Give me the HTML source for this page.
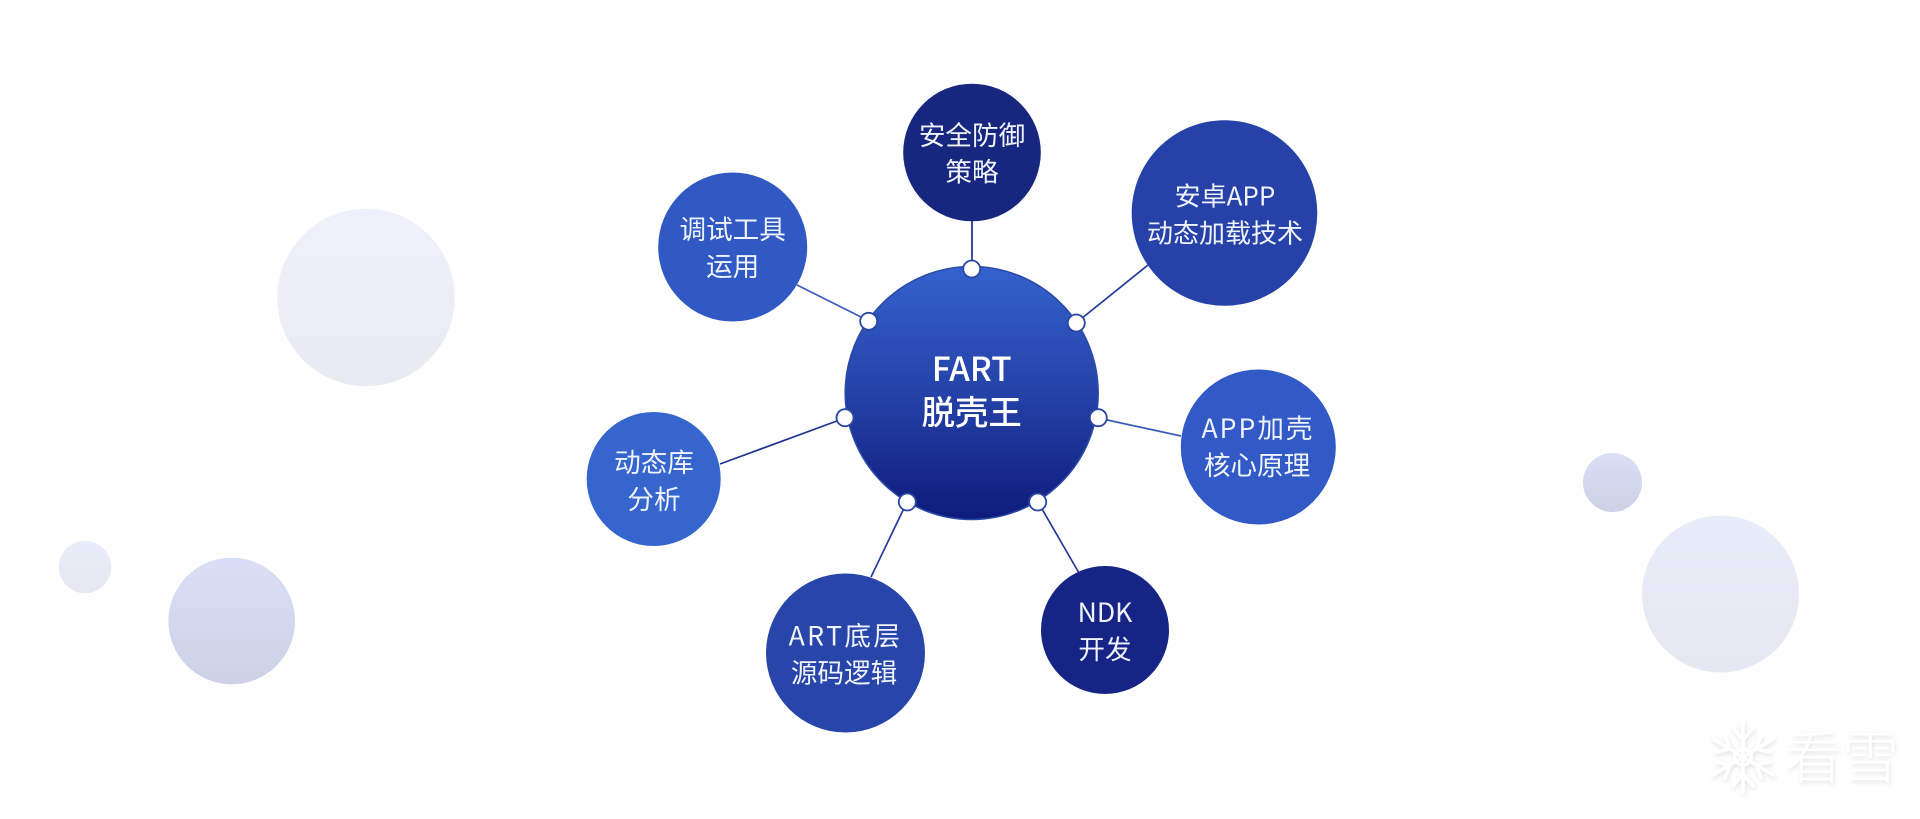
<!DOCTYPE html>
<html lang="zh"><head><meta charset="utf-8"><title>FART 脱壳王</title>
<style>
html,body{margin:0;padding:0;background:#fff;width:1920px;height:819px;overflow:hidden}
svg{display:block}
text{font-family:"Noto Sans CJK SC",sans-serif;fill:#f0f3fc;text-anchor:middle;font-size:26.6px;font-weight:400}
</style></head><body>
<svg width="1920" height="819" viewBox="0 0 1920 819" xmlns="http://www.w3.org/2000/svg">
<defs>
<linearGradient id="m" x1="0" y1="0" x2="0" y2="1"><stop offset="0" stop-color="#3462cd"/><stop offset="0.5" stop-color="#2542a8"/><stop offset="1" stop-color="#0e1b7b"/></linearGradient>
<linearGradient id="b1" x1="0" y1="0" x2="0" y2="1"><stop offset="0" stop-color="#eef1fb"/><stop offset="1" stop-color="#e9ebf3"/></linearGradient>
<linearGradient id="b2" x1="0" y1="0" x2="0" y2="1"><stop offset="0" stop-color="#d8dff6"/><stop offset="1" stop-color="#cdd1e5"/></linearGradient>
<linearGradient id="b3" x1="0" y1="0" x2="0" y2="1"><stop offset="0" stop-color="#e9edf9"/><stop offset="1" stop-color="#e5e7f2"/></linearGradient>
<filter id="s" x="-20%" y="-20%" width="140%" height="140%"><feDropShadow dx="1" dy="2" stdDeviation="2.2" flood-color="#000" flood-opacity="0.11"/></filter>
</defs>
<rect width="1920" height="819" fill="#fefefe"/>
<circle cx="366" cy="297.5" r="88.7" fill="url(#b1)"/>
<circle cx="85" cy="567" r="26.2" fill="url(#b3)"/>
<circle cx="231.7" cy="621" r="63.3" fill="url(#b2)"/>
<circle cx="1612.5" cy="482.5" r="29.5" fill="url(#b2)"/>
<circle cx="1720.5" cy="594" r="78.5" fill="url(#b3)"/>
<g stroke-width="1.7">
<line x1="972" y1="220" x2="972" y2="262" stroke="#1b2d8c"/>
<line x1="1148" y1="265" x2="1076" y2="323" stroke="#233c9c"/>
<line x1="797" y1="285" x2="869" y2="321" stroke="#3a5cb8"/>
<line x1="1181" y1="436" x2="1098" y2="418" stroke="#3a5cb8"/>
<line x1="720" y1="464" x2="845" y2="418" stroke="#1f3390"/>
<line x1="871" y1="577" x2="907" y2="502" stroke="#243c9c"/>
<line x1="1079" y1="573" x2="1038" y2="502" stroke="#233a98"/>
</g>
<circle cx="972" cy="152.5" r="68.8" fill="#17277f"/>
<circle cx="1224.5" cy="213" r="92.8" fill="#2642a9"/>
<circle cx="732.7" cy="247" r="74.5" fill="#3059c4"/>
<circle cx="1258.3" cy="447" r="77.5" fill="#315ac6"/>
<circle cx="653.7" cy="479" r="67" fill="#3565cd"/>
<circle cx="845.5" cy="653" r="79.5" fill="#2845a9"/>
<circle cx="1105" cy="630" r="64" fill="#162585"/>
<circle cx="971.7" cy="393" r="126.5" fill="url(#m)" stroke="#2a4aa8" stroke-width="1.5"/>
<g fill="#fff" stroke="#2a46a4" stroke-width="1.8">
<circle cx="971.7" cy="269" r="8.5"/>
<circle cx="868.7" cy="321.3" r="8.5"/>
<circle cx="1076.3" cy="323" r="8.5"/>
<circle cx="845" cy="417.7" r="8.5"/>
<circle cx="1098.3" cy="417.7" r="8.5"/>
<circle cx="907.3" cy="502" r="8.5"/>
<circle cx="1037.7" cy="502" r="8.5"/>
</g>
<text x="972" y="145">安全防御</text>
<text x="972" y="181.5">策略</text>
<text x="1225" y="205.5" style="font-size:26px">安卓APP</text>
<text x="1225" y="242.5" style="font-size:26px">动态加载技术</text>
<text x="732.7" y="239">调试工具</text>
<text x="732.7" y="276">运用</text>
<text x="1258" y="438" letter-spacing="2">APP加壳</text>
<text x="1257" y="475">核心原理</text>
<text x="654" y="472">动态库</text>
<text x="654" y="509">分析</text>
<text x="845.5" y="645.5" letter-spacing="2.4">ART底层</text>
<text x="844" y="682.5">源码逻辑</text>
<text x="1105" y="622">NDK</text>
<text x="1105" y="659">开发</text>
<text x="971.7" y="381" style="font-size:33.4px;font-weight:500;fill:#fff">FART</text>
<text x="971.7" y="424.5" style="font-size:33.4px;font-weight:500;fill:#fff">脱壳王</text>
<g filter="url(#s)">
<g stroke="#fff" stroke-width="3.5" fill="none" stroke-linecap="round">
<line x1="1743" y1="722" x2="1743" y2="792"/>
<line x1="1713" y1="739" x2="1773" y2="775"/>
<line x1="1713" y1="775" x2="1773" y2="739"/>
<polyline points="1733,728 1743,740 1753,728"/>
<polyline points="1733,786 1743,774 1753,786"/>
<polyline points="1716,752 1730,749 1725,736"/>
<polyline points="1770,762 1756,765 1761,778"/>
<polyline points="1716,762 1730,765 1725,778"/>
<polyline points="1770,752 1756,749 1761,736"/>
<polygon points="1743,748 1751,752.5 1751,761.5 1743,766 1735,761.5 1735,752.5"/>
</g>
<text x="1842" y="778" style="font-size:57px;fill:#fff;font-weight:300">看雪</text>
</g>
</svg>
</body></html>
